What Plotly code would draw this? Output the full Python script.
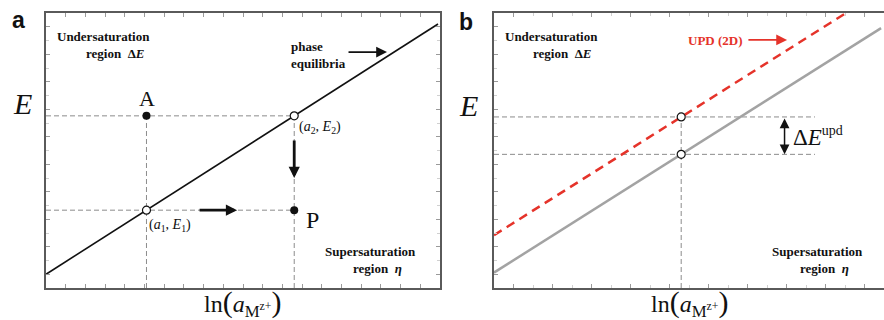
import plotly.graph_objects as go

W, H = 884, 320

# ---- data (panel a) ----
eq_x = [0.0, 19.9]          # phase-equilibria line, ln(a)
eq_E = [0.5, 9.6]
a1, E1 = 5.1, 2.83          # (a1, E1)
a2, E2 = 12.6, 6.26         # (a2, E2)
A_pt = (a1, E2)
P_pt = (a2, E1)

# ---- data (panel b) ----
bulk_x = [0.0, 19.85]
bulk_E = [0.56, 9.45]
upd_x = [0.0, 18.05]
upd_E = [1.92, 10.0]
ab = 9.6
E_bulk = 4.86
E_upd = 6.22
hline_end_b = 16.46

SERIF = "Liberation Serif"
SANS = "Liberation Sans"
GRID = "#8c8c8c"
RED = "#e5332a"

fig = go.Figure()

def dashed(x, y, xa="x", ya="y"):
    fig.add_trace(go.Scatter(x=x, y=y, mode="lines", xaxis=xa, yaxis=ya,
                             line=dict(color=GRID, width=1, dash="5px,3px"),
                             hoverinfo="skip", showlegend=False))

# panel a dashed guides
dashed([0, a2], [E2, E2])
dashed([0, a2], [E1, E1])
dashed([a1, a1], [0, E2])
dashed([a2, a2], [0, E2])

# panel a equilibrium line
fig.add_trace(go.Scatter(x=eq_x, y=eq_E, mode="lines",
                         line=dict(color="#111", width=1.6), showlegend=False))

# filled points A, P
fig.add_trace(go.Scatter(x=[A_pt[0], P_pt[0]], y=[A_pt[1], P_pt[1]], mode="markers",
                         marker=dict(size=8, color="#111"), showlegend=False))
# open points
fig.add_trace(go.Scatter(x=[a1, a2], y=[E1, E2], mode="markers",
                         marker=dict(size=8, color="white", line=dict(color="#111", width=1.2)),
                         showlegend=False))

# panel b dashed guides
dashed([0, hline_end_b], [E_upd, E_upd], "x2", "y2")
dashed([0, hline_end_b], [E_bulk, E_bulk], "x2", "y2")
dashed([ab, ab], [0, E_upd], "x2", "y2")

fig.add_trace(go.Scatter(x=bulk_x, y=bulk_E, mode="lines", xaxis="x2", yaxis="y2",
                         line=dict(color="#a3a3a3", width=2.5), showlegend=False))
fig.add_trace(go.Scatter(x=upd_x, y=upd_E, mode="lines", xaxis="x2", yaxis="y2",
                         line=dict(color=RED, width=2.5, dash="9px,6px"), showlegend=False))
fig.add_trace(go.Scatter(x=[ab, ab], y=[E_bulk, E_upd], mode="markers", xaxis="x2", yaxis="y2",
                         marker=dict(size=8, color="white", line=dict(color="#111", width=1.2)),
                         showlegend=False))

# ---- axes ----
ydom = [(H - 288) / H, (H - 13) / H]
common = dict(showgrid=False, zeroline=False, showticklabels=False,
              showline=True, linecolor="#5a5a5a", linewidth=2,
              ticks="inside", ticklen=4, tickcolor="#9a9a9a", tickwidth=1)
fig.update_layout(
    xaxis=dict(domain=[46 / W, 440 / W], range=[0, 20], tick0=0, dtick=1,
               mirror="ticks", **common),
    yaxis=dict(domain=ydom, range=[0, 10], tick0=0.5, dtick=1, mirror="ticks",
               minor=dict(ticks="inside", ticklen=3, tickcolor="#d0d0d0", dtick=0.5, tick0=0),
               **common),
    xaxis2=dict(domain=[494 / W, 1.0], range=[0, 20], tick0=1, dtick=2, anchor="y2",
                mirror="ticks",
                minor=dict(ticks="inside", ticklen=3, tickcolor="#d0d0d0", dtick=1, tick0=0),
                **common),
    yaxis2=dict(domain=ydom, range=[0, 10], tick0=0.5, dtick=1, anchor="x2",
                minor=dict(ticks="inside", ticklen=3, tickcolor="#d0d0d0", dtick=0.5, tick0=0),
                **common),
    width=W, height=H, margin=dict(l=0, r=0, t=0, b=0),
    paper_bgcolor="white", plot_bgcolor="white", showlegend=False,
)

ann = []

def txt(px, py, text, size, family=SERIF, color="#111", xanchor="center"):
    ann.append(dict(x=px / W, y=1 - py / H, xref="paper", yref="paper", text=text,
                    showarrow=False, xanchor=xanchor, yanchor="middle",
                    font=dict(family=family, size=size, color=color)))

def arrow(x0, y0, x1, y1, xr="x", yr="y", color="#111", width=2.5, side="end", head=2, hs=1.0):
    ann.append(dict(x=x1, y=y1, ax=x0, ay=y0, xref=xr, yref=yr, axref=xr, ayref=yr,
                    showarrow=True, arrowhead=head, arrowsize=hs, arrowwidth=width,
                    arrowcolor=color, arrowside=side, text="",
                    startarrowhead=head, startarrowsize=hs))

LN = ("ln<span style='font-size:30px'>(</span><i>a</i><sub>M<sup>z+</sup></sub>"
      "<span style='font-size:30px'>)</span>")

# panel letters
txt(18, 20, "<b>a</b>", 23, SANS)
txt(466, 22, "<b>b</b>", 23, SANS)

# panel a texts
txt(103, 37, "<b>Undersaturation</b>", 13)
txt(115, 53, "<b>region  Δ<i>E</i></b>", 13)
txt(289, 47, "<b>phase</b>", 13, xanchor="left")
txt(289, 63, "<b>equilibria</b>", 13, xanchor="left")
txt(370, 251, "<b>Supersaturation</b>", 13)
txt(377, 268, "<b>region  <i>η</i></b>", 13)
txt(147, 99, "A", 22)
txt(312, 220, "P", 24)
txt(320, 127, "(<i>a</i><sub>2</sub>, <i>E</i><sub>2</sub>)", 14)
txt(170, 225, "(<i>a</i><sub>1</sub>, <i>E</i><sub>1</sub>)", 14)
txt(22, 104, "<i>E</i>", 30)
txt(242, 303, LN, 24)

# panel b texts
txt(551, 37, "<b>Undersaturation</b>", 13)
txt(562, 53, "<b>region  Δ<i>E</i></b>", 13)
txt(715, 40, "<b>UPD (2D)</b>", 13, color=RED)
txt(817, 251, "<b>Supersaturation</b>", 13)
txt(824, 268, "<b>region  <i>η</i></b>", 13)
txt(468, 105, "<i>E</i>", 30)
txt(689, 303, LN, 24)
txt(791, 136, "Δ<i>E</i><sup><span style='font-size:14px'>upd</span></sup>", 23, xanchor="left")

# arrows panel a
arrow(15.28, 8.58, 17.31, 8.58, width=1.8, hs=1.2)
arrow(a2, 5.42, a2, 4.0, width=2.8, hs=0.8)
arrow(7.72, E1, 9.7, E1, width=2.8, hs=0.8)
# arrows panel b
arrow(12.97, 9.02, 15.03, 9.02, xr="x2", yr="y2", color=RED, width=1.8, hs=1.2)
arrow(14.9, E_upd, 14.9, E_bulk, xr="x2", yr="y2", width=1.5, side="end+start", hs=1.3)

fig.update_layout(annotations=ann)
fig.write_html("out.html")
